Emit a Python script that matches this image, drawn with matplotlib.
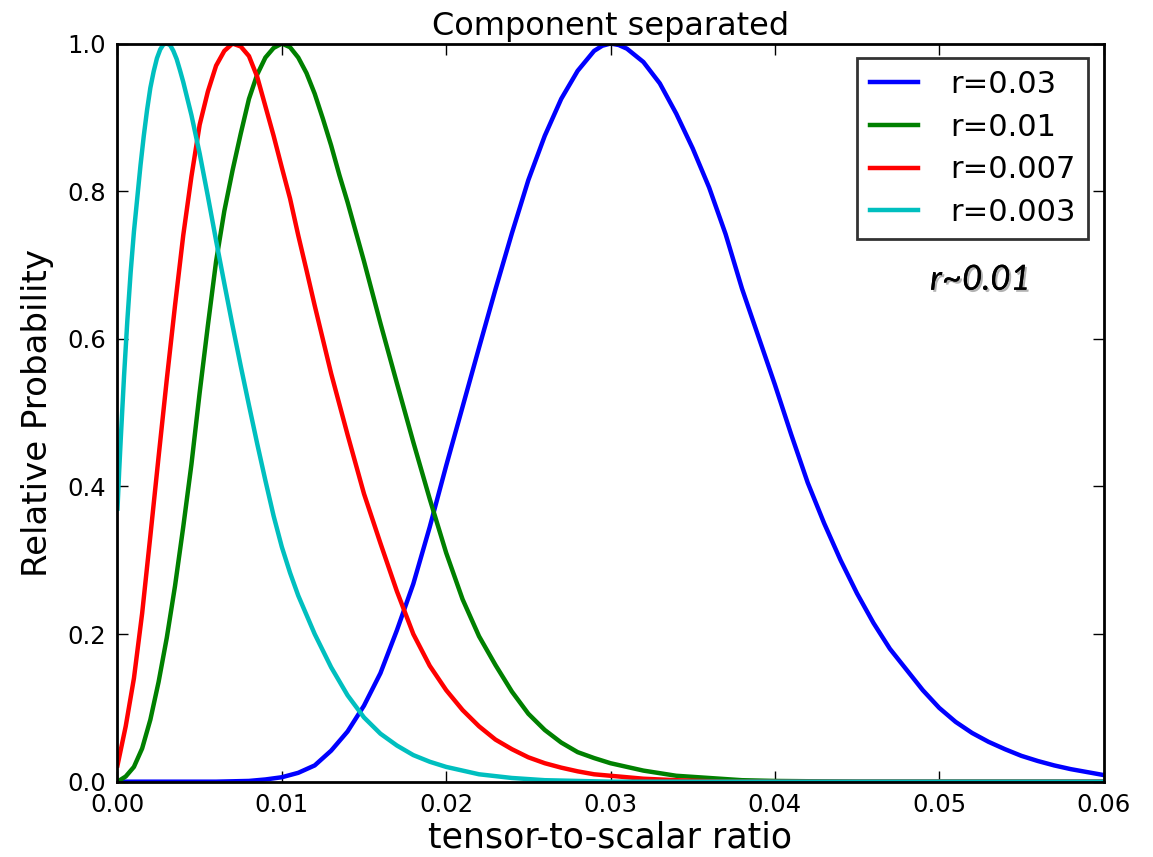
import numpy as np
import matplotlib.pyplot as plt
import matplotlib.patheffects as pe

# values
r_blue = [0.000, 0.006, 0.008, 0.009, 0.010, 0.011, 0.012, 0.013, 0.014, 0.015, 0.016, 0.017,
          0.018, 0.019, 0.020, 0.021, 0.022, 0.023, 0.024, 0.025, 0.026, 0.027, 0.028,
          0.029, 0.0295, 0.030, 0.0305, 0.031, 0.032, 0.033, 0.034, 0.035, 0.036, 0.037,
          0.038, 0.039, 0.040, 0.041, 0.042, 0.043, 0.044, 0.045, 0.046, 0.047, 0.048,
          0.049, 0.050, 0.051, 0.052, 0.053, 0.054, 0.055, 0.056, 0.057, 0.058, 0.059, 0.060]
p_blue = [0.0, 0.0, 0.001, 0.003, 0.006, 0.012, 0.022, 0.042, 0.068, 0.103, 0.147, 0.205,
          0.268, 0.345, 0.428, 0.508, 0.588, 0.667, 0.743, 0.815, 0.875, 0.925, 0.963,
          0.99, 0.997, 1.0, 0.998, 0.993, 0.975, 0.946, 0.905, 0.858, 0.805, 0.742,
          0.668, 0.603, 0.538, 0.47, 0.405, 0.35, 0.30, 0.255, 0.215, 0.18, 0.152,
          0.124, 0.100, 0.081, 0.066, 0.054, 0.044, 0.035, 0.028, 0.022, 0.017, 0.013, 0.009]

r_green = [0.000, 0.0005, 0.001, 0.0015, 0.002, 0.0025, 0.003, 0.0035, 0.004, 0.0045,
           0.005, 0.0055, 0.006, 0.0065, 0.007, 0.0075, 0.008, 0.0085, 0.009, 0.0095,
           0.010, 0.0105, 0.011, 0.0115, 0.012, 0.0125, 0.013, 0.0135, 0.014, 0.015,
           0.016, 0.017, 0.018, 0.019, 0.020, 0.021, 0.022, 0.023, 0.024, 0.025,
           0.026, 0.027, 0.028, 0.029, 0.030, 0.032, 0.034, 0.036, 0.038, 0.040,
           0.045, 0.060]
p_green = [0.0, 0.007, 0.02, 0.045, 0.084, 0.135, 0.195, 0.265, 0.345, 0.43,
           0.527, 0.618, 0.705, 0.773, 0.828, 0.878, 0.925, 0.958, 0.981, 0.994,
           1.0, 0.995, 0.981, 0.96, 0.932, 0.898, 0.862, 0.822, 0.785, 0.705,
           0.621, 0.54, 0.46, 0.383, 0.31, 0.247, 0.197, 0.158, 0.122, 0.092,
           0.07, 0.053, 0.04, 0.032, 0.025, 0.015, 0.008, 0.005, 0.002, 0.001,
           0.0, 0.0]

r_red = [0.000, 0.0005, 0.001, 0.0015, 0.002, 0.0025, 0.003, 0.0035, 0.004, 0.0045,
         0.005, 0.0055, 0.006, 0.0065, 0.007, 0.0075, 0.008, 0.0085, 0.009, 0.0095,
         0.010, 0.0105, 0.011, 0.0115, 0.012, 0.013, 0.014, 0.015, 0.016, 0.017,
         0.018, 0.019, 0.020, 0.021, 0.022, 0.023, 0.024, 0.025, 0.026, 0.027,
         0.028, 0.029, 0.030, 0.032, 0.034, 0.037, 0.060]
p_red = [0.022, 0.075, 0.14, 0.228, 0.333, 0.44, 0.545, 0.645, 0.74, 0.82,
         0.89, 0.935, 0.97, 0.99, 1.0, 0.996, 0.983, 0.955, 0.915, 0.875,
         0.832, 0.79, 0.74, 0.693, 0.645, 0.553, 0.47, 0.39, 0.323, 0.258,
         0.20, 0.157, 0.124, 0.097, 0.075, 0.057, 0.044, 0.033, 0.025, 0.019,
         0.014, 0.010, 0.008, 0.004, 0.002, 0.0, 0.0]

r_cyan = [0.000, 0.0001, 0.0002, 0.0004, 0.0006, 0.0008, 0.001, 0.0012, 0.0014, 0.0016,
          0.0018, 0.002, 0.0022, 0.0024, 0.0026, 0.0028, 0.003, 0.0032, 0.0034, 0.0036,
          0.0038, 0.004, 0.0045, 0.005, 0.0055, 0.006, 0.0065, 0.007, 0.0075, 0.008,
          0.0085, 0.009, 0.0095, 0.010, 0.0105, 0.011, 0.012, 0.013, 0.014, 0.015,
          0.016, 0.017, 0.018, 0.019, 0.020, 0.022, 0.024, 0.026, 0.030, 0.060]
p_cyan = [0.37, 0.42, 0.465, 0.55, 0.625, 0.69, 0.745, 0.79, 0.835, 0.875,
          0.91, 0.94, 0.962, 0.98, 0.992, 0.999, 1.0, 0.998, 0.99, 0.979,
          0.964, 0.948, 0.903, 0.851, 0.793, 0.733, 0.675, 0.618, 0.563, 0.51,
          0.458, 0.408, 0.36, 0.318, 0.283, 0.252, 0.200, 0.155, 0.117, 0.087,
          0.065, 0.049, 0.036, 0.027, 0.020, 0.010, 0.005, 0.002, 0.0, 0.0]

labels = ['r=0.03', 'r=0.01', 'r=0.007', 'r=0.003']
colors = ['b', 'g', 'r', 'c']

fig = plt.figure(figsize=(11.53, 8.57), dpi=100)
ax = fig.add_axes([0.1019, 0.0879, 0.8552, 0.8613])

for r, p, lab, c in zip([r_blue, r_green, r_red, r_cyan],
                        [p_blue, p_green, p_red, p_cyan], labels, colors):
    ax.plot(r, p, color=c, lw=3.2, label=lab, solid_joinstyle='round')

ax.set_xlim(0, 0.06)
ax.set_ylim(0, 1.0)
xt = np.arange(0, 0.061, 0.01)
yt = np.arange(0, 1.01, 0.2)
ax.set_xticks(xt)
ax.set_yticks(yt)
ax.set_xticklabels(['%.2f' % v for v in xt])
ax.set_yticklabels(['%.1f' % v for v in yt])
ax.tick_params(direction='in', length=8, width=1, top=True, right=True,
               labelsize=17.5, pad=8)
for s in ax.spines.values():
    s.set_linewidth(2)

ax.set_xlabel('tensor-to-scalar ratio', fontsize=25, labelpad=3)
ax.set_ylabel('Relative Probability', fontsize=24.5, labelpad=10)
ax.set_title('Component separated', fontsize=23, pad=6)

leg = ax.legend(loc='upper right', fontsize=22, handlelength=1.6, handletextpad=1.05,
                borderpad=0.4, labelspacing=0.45, fancybox=False,
                bbox_to_anchor=(0.9845, 0.981), borderaxespad=0)
leg.get_frame().set_edgecolor('black')
leg.get_frame().set_linewidth(2)

ax.text(0.875, 0.68, 'r~0.01', transform=ax.transAxes, fontsize=25,
        style='italic', family=['Lato', 'DejaVu Sans'], ha='center', va='center',
        path_effects=[pe.withSimplePatchShadow(offset=(1.5, -1.5), alpha=0.3), pe.Normal()])

fig.savefig('out.png', dpi=100)
